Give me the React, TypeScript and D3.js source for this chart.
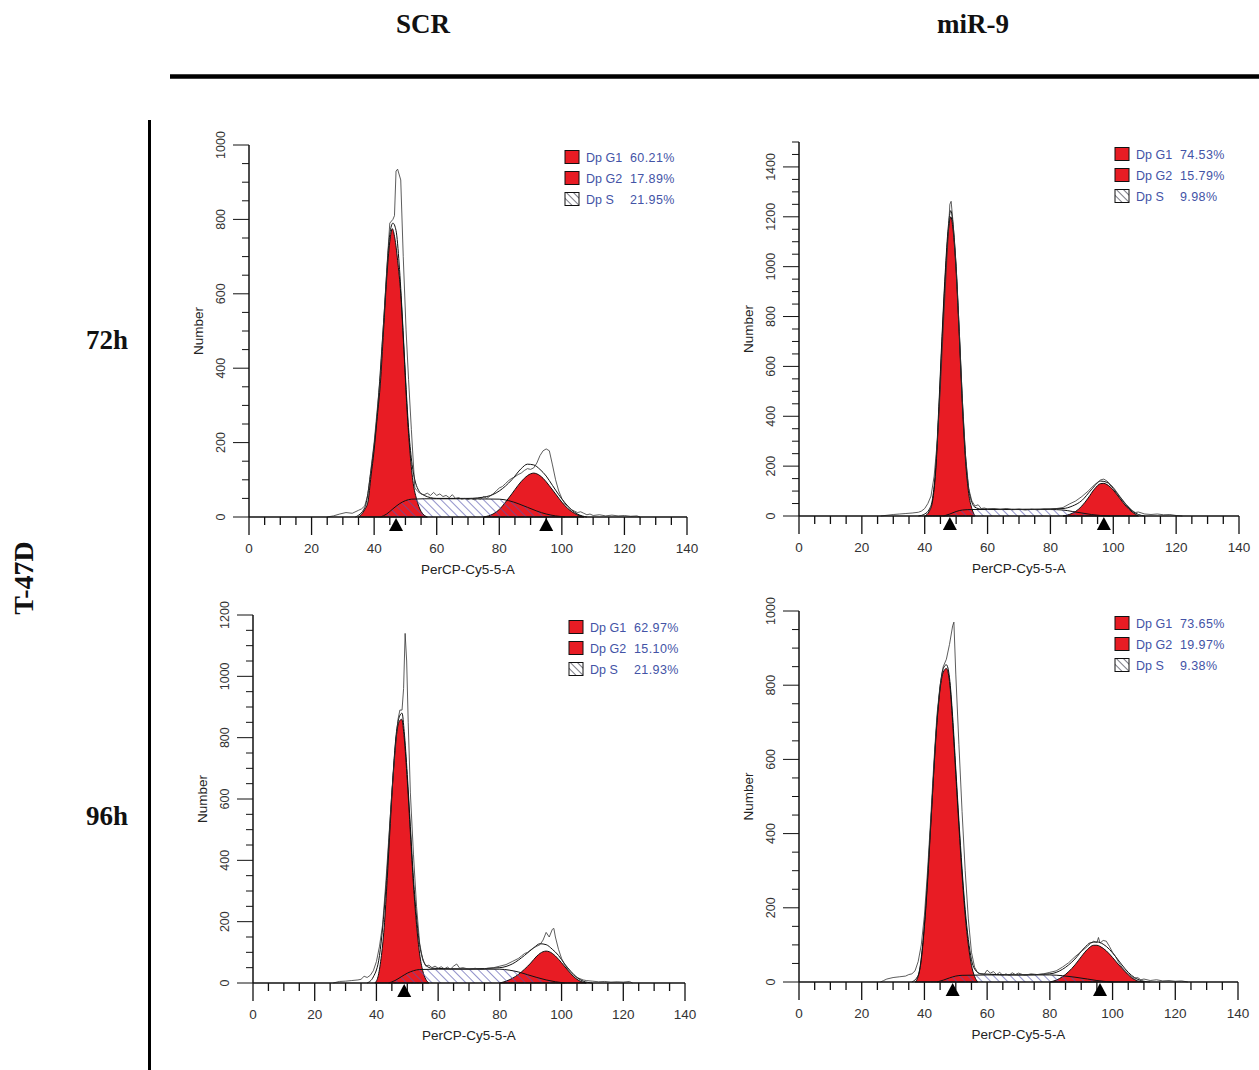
import * as d3 from 'd3'

type Pt = [number, number]

// x = PerCP-Cy5-5-A channel, y = Number (counts)

// SCR 72h
const scr72G1: Pt[] = [[35, 0], [37, 20], [38, 40], [39, 110], [40, 180], [41, 270], [42, 360], [43, 500], [44, 640], [45, 740], [45.8, 775], [46.6, 750], [47.5, 690], [48.5, 600], [49.5, 450], [50.5, 290], [51.5, 170], [52.5, 90], [53.5, 50], [55, 15], [57, 0]]
const scr72G2: Pt[] = [[75, 0], [78, 8], [80, 20], [82, 40], [84, 62], [86, 85], [88, 104], [90, 116], [91, 118], [92, 116], [94, 104], [96, 84], [98, 62], [100, 40], [102, 22], [104, 10], [107, 0]]
const scr72S: Pt[] = [[42, 0], [44, 8], [46, 22], [48, 35], [50, 44], [52, 48], [56, 49], [60, 49], [70, 49], [80, 48], [83, 44], [86, 36], [89, 26], [92, 16], [95, 8], [98, 3], [101, 0]]
const scr72Fit: Pt[] = [[34, 0], [37, 25], [39, 125], [41, 280], [43, 520], [45, 760], [46, 790], [47, 770], [48, 680], [49, 540], [50, 380], [51, 240], [52, 150], [53, 100], [54, 75], [56, 58], [60, 50], [70, 50], [76, 55], [80, 70], [84, 100], [87, 130], [89, 142], [91, 140], [93, 128], [95, 110], [97, 85], [99, 60], [101, 38], [103, 20], [105, 8], [108, 0]]
const scr72Raw: Pt[] = [[25, 0], [27, 3], [29, 8], [31, 12], [33, 10], [35, 18], [36, 22], [37, 30], [38, 60], [39, 130], [40, 200], [41, 290], [42, 380], [43, 520], [44, 660], [45, 790], [46, 800], [46.5, 810], [47, 930], [47.5, 935], [48.5, 906], [49.3, 700], [50.2, 503], [51, 370], [51.9, 235], [53, 78], [54, 68], [55, 62], [56, 60], [57, 64], [58, 58], [59, 66], [60, 58], [61, 62], [62, 55], [63, 58], [64, 52], [65, 60], [66, 50], [67, 52], [68, 48], [69, 50], [70, 47], [71, 50], [72, 46], [73, 50], [74, 48], [75, 55], [76, 50], [77, 56], [78, 62], [79, 70], [80, 78], [81, 82], [82, 90], [83, 98], [84, 104], [85, 108], [86, 114], [87, 118], [88, 125], [89, 130], [90, 128], [91, 132], [92, 145], [93, 165], [94, 178], [95, 183], [96, 178], [97, 140], [98, 100], [99, 70], [100, 50], [101, 35], [102, 28], [103, 20], [104, 16], [105, 12], [106, 14], [107, 10], [108, 6], [109, 8], [110, 4], [112, 6], [114, 3], [116, 5], [118, 3], [120, 4], [122, 2], [124, 3], [125, 0]]
const scr72Legend = ['60.21%', '17.89%', '21.95%']
const scr72Markers = [47, 95]

// miR-9 72h
const mir72G1: Pt[] = [[40, 0], [41.5, 20], [42.5, 60], [43.5, 180], [44.5, 420], [45.5, 700], [46.5, 950], [47.5, 1140], [48.3, 1200], [49, 1150], [50, 980], [51, 720], [52, 440], [53, 220], [54, 90], [55, 30], [56, 0]]
const mir72G2: Pt[] = [[84, 0], [86, 6], [88, 18], [90, 40], [92, 72], [94, 108], [96, 130], [97, 131], [98, 126], [100, 104], [102, 72], [104, 40], [106, 16], [108, 0]]
const mir72S: Pt[] = [[46, 0], [48, 8], [50, 18], [52, 24], [55, 26], [60, 26], [70, 26], [80, 26], [84, 24], [87, 18], [90, 12], [93, 6], [96, 2], [99, 0]]
const mir72Fit: Pt[] = [[38, 0], [40, 8], [41.5, 28], [42.5, 70], [43.5, 195], [44.5, 440], [45.5, 720], [46.5, 970], [47.5, 1160], [48.3, 1225], [49, 1170], [50, 1000], [51, 740], [52, 460], [53, 240], [54, 110], [55, 55], [56, 35], [58, 28], [70, 27], [84, 30], [87, 40], [90, 62], [93, 105], [96, 140], [98, 135], [100, 110], [102, 78], [104, 46], [106, 20], [108, 6], [110, 0]]
const mir72Raw: Pt[] = [[26, 0], [28, 3], [30, 6], [32, 8], [34, 10], [36, 12], [38, 15], [39, 20], [40, 30], [41, 50], [42, 80], [43, 160], [44, 300], [45, 520], [46, 780], [47, 1020], [48, 1250], [48.4, 1262], [49, 1180], [50, 1000], [51, 740], [52, 460], [53, 240], [54, 110], [55, 60], [56, 40], [57, 45], [58, 30], [59, 32], [60, 28], [62, 30], [64, 26], [66, 30], [68, 25], [70, 28], [72, 24], [74, 27], [76, 25], [78, 28], [80, 26], [82, 30], [84, 34], [86, 48], [88, 60], [90, 78], [92, 100], [94, 125], [96, 145], [97, 148], [98, 140], [100, 115], [102, 80], [104, 48], [106, 22], [107, 14], [108, 16], [110, 8], [112, 6], [114, 8], [116, 5], [118, 6], [120, 2], [122, 0]]
const mir72Legend = ['74.53%', '15.79%', '9.98%']
const mir72Markers = [48, 97]

// SCR 96h
const scr96G1: Pt[] = [[39.5, 0], [40.5, 20], [41.5, 80], [42.5, 180], [43.5, 340], [44.5, 520], [45.5, 690], [46.5, 810], [47.5, 855], [48.2, 860], [49, 800], [50, 660], [51, 490], [52, 320], [53, 190], [54, 95], [55, 40], [56, 12], [57, 0]]
const scr96G2: Pt[] = [[80, 0], [82, 6], [84, 15], [86, 28], [88, 45], [90, 65], [92, 88], [94, 102], [95, 104], [96, 102], [98, 88], [100, 66], [102, 42], [104, 20], [106, 6], [108, 0]]
const scr96S: Pt[] = [[44, 0], [46, 8], [48, 20], [50, 32], [52, 40], [54, 44], [60, 45], [70, 45], [80, 45], [83, 42], [86, 36], [89, 27], [92, 18], [95, 10], [98, 4], [101, 0]]
const scr96Fit: Pt[] = [[37, 0], [39, 20], [41, 90], [43, 300], [45, 620], [46.5, 820], [47.5, 870], [48.3, 880], [49, 820], [50, 680], [51, 510], [52, 340], [53, 215], [54, 125], [55, 80], [56, 58], [58, 48], [70, 46], [80, 50], [84, 62], [88, 90], [91, 115], [93, 128], [95, 125], [97, 110], [99, 90], [101, 62], [103, 38], [105, 18], [107, 6], [110, 0]]
const scr96Raw: Pt[] = [[26, 0], [28, 5], [30, 6], [32, 8], [34, 10], [35, 12], [36, 22], [37, 18], [38, 25], [39, 40], [40, 70], [41, 120], [42, 190], [43, 320], [44, 470], [45, 620], [46, 750], [47, 860], [47.6, 890], [48.3, 890], [48.8, 960], [49.3, 1140], [49.8, 1050], [50.3, 850], [51, 620], [52, 420], [53, 250], [54, 130], [55, 75], [56, 55], [57, 58], [58, 50], [59, 55], [60, 48], [61, 53], [62, 46], [63, 52], [64, 45], [65, 55], [66, 62], [67, 48], [68, 50], [70, 45], [72, 48], [74, 44], [76, 48], [78, 50], [80, 55], [82, 60], [84, 70], [86, 80], [87, 88], [88, 96], [89, 100], [90, 108], [91, 115], [92, 120], [93, 125], [94, 140], [95, 165], [96, 150], [97, 175], [97.5, 178], [98, 150], [99, 110], [100, 80], [101, 60], [102, 45], [103, 35], [104, 25], [105, 18], [106, 14], [107, 10], [108, 8], [110, 6], [112, 4], [114, 5], [116, 3], [118, 4], [120, 3], [122, 5], [123, 0]]
const scr96Legend = ['62.97%', '15.10%', '21.93%']
const scr96Markers = [49]

// miR-9 96h
const mir96G1: Pt[] = [[37, 0], [38, 15], [39, 60], [40, 150], [41, 270], [42, 420], [43, 570], [44, 700], [45, 790], [46, 835], [47, 845], [48, 810], [49, 700], [50, 560], [51, 420], [52, 290], [53, 180], [54, 100], [55, 45], [56, 15], [57, 0]]
const mir96G2: Pt[] = [[80, 0], [82, 5], [84, 14], [86, 28], [88, 46], [90, 68], [92, 88], [94, 99], [95, 99], [96, 96], [98, 84], [100, 66], [102, 46], [104, 28], [106, 12], [108, 3], [110, 0]]
const mir96S: Pt[] = [[44, 0], [46, 5], [48, 11], [50, 16], [52, 18], [60, 19], [70, 19], [80, 19], [84, 17], [88, 13], [92, 8], [95, 4], [98, 1], [100, 0]]
const mir96Fit: Pt[] = [[36, 0], [38, 18], [40, 155], [42, 425], [44, 705], [46, 845], [47, 855], [48, 820], [49, 715], [50, 575], [51, 435], [52, 305], [53, 195], [54, 115], [55, 60], [56, 35], [58, 22], [70, 19], [80, 22], [84, 34], [88, 62], [91, 92], [93, 106], [95, 108], [97, 102], [99, 88], [101, 68], [103, 46], [105, 26], [107, 12], [110, 2], [112, 0]]
const mir96Raw: Pt[] = [[26, 0], [27, 4], [28, 8], [30, 12], [32, 14], [34, 16], [35, 20], [36, 22], [37, 30], [38, 55], [39, 100], [40, 180], [41, 300], [42, 440], [43, 590], [44, 720], [45, 800], [46, 850], [47, 870], [48, 910], [49, 960], [49.4, 970], [50, 830], [51, 640], [52, 460], [53, 300], [54, 170], [55, 80], [56, 40], [57, 25], [58, 22], [59, 20], [60, 32], [61, 24], [62, 28], [63, 20], [64, 26], [65, 18], [66, 22], [67, 18], [68, 25], [69, 20], [70, 24], [72, 18], [74, 22], [76, 20], [78, 22], [80, 26], [82, 30], [84, 40], [86, 52], [88, 68], [90, 82], [92, 96], [93, 104], [94, 110], [95, 106], [95.5, 120], [96, 105], [97, 112], [98, 110], [99, 96], [100, 80], [101, 68], [102, 52], [103, 40], [104, 30], [105, 22], [106, 15], [107, 10], [108, 12], [109, 6], [110, 8], [112, 4], [114, 6], [116, 3], [118, 4], [120, 2], [122, 3], [124, 0]]
const mir96Legend = ['73.65%', '19.97%', '9.38%']
const mir96Markers = [49, 96]

const legendNames = ['Dp G1', 'Dp G2', 'Dp S']
const xTickLabels = [0, 20, 40, 60, 80, 100, 120, 140]
const columnTitles = ['SCR', 'miR-9']
const rowTitles = ['72h', '96h']
const cellLine = 'T-47D'

const RED = '#e81c24'
const BLUE = '#4353a6'
const sans = 'Arial, "Liberation Sans", sans-serif'
const serif = '"Times New Roman", "Liberation Serif", serif'

const panels = [
  { id: 'p1', left: 249, right: 687, bottom: 517, top: 145, yMax: 1000, g1: scr72G1, g2: scr72G2, s: scr72S, fit: scr72Fit, raw: scr72Raw, legend: scr72Legend, markers: scr72Markers },
  { id: 'p2', left: 799, right: 1239, bottom: 516, top: 142, yMax: 1500, g1: mir72G1, g2: mir72G2, s: mir72S, fit: mir72Fit, raw: mir72Raw, legend: mir72Legend, markers: mir72Markers },
  { id: 'p3', left: 253, right: 685, bottom: 983, top: 615, yMax: 1200, g1: scr96G1, g2: scr96G2, s: scr96S, fit: scr96Fit, raw: scr96Raw, legend: scr96Legend, markers: scr96Markers },
  { id: 'p4', left: 799, right: 1238, bottom: 982, top: 611, yMax: 1000, g1: mir96G1, g2: mir96G2, s: mir96S, fit: mir96Fit, raw: mir96Raw, legend: mir96Legend, markers: mir96Markers },
]

type PanelCfg = (typeof panels)[number]

const Panel = ({ p }: { p: PanelCfg }) => {
  const x = d3.scaleLinear().domain([0, 140]).range([p.left, p.right])
  const y = d3.scaleLinear().domain([0, p.yMax]).range([p.bottom, p.top])

  const area = d3.area<Pt>()
    .x((d) => x(d[0]))
    .y0(y(0))
    .y1((d) => y(d[1]))
    .curve(d3.curveMonotoneX)
  const smooth = d3.line<Pt>()
    .x((d) => x(d[0]))
    .y((d) => y(d[1]))
    .curve(d3.curveMonotoneX)
  const jagged = d3.line<Pt>()
    .x((d) => x(d[0]))
    .y((d) => y(d[1]))

  const xMinor = d3.range(0, 141, 5)
  const yMinor = d3.range(0, p.yMax + 1, 50)
  const yLabels = d3.range(0, p.yMax + 1, 200)
  const midY = (p.top + p.bottom) / 2
  const lx = p.left + 316
  const ly = p.top + 12

  return (
    <g>
      {/* histogram components */}
      <path d={area(p.g1) ?? ''} fill={RED} stroke="#111" strokeWidth={1} />
      <path d={area(p.g2) ?? ''} fill={RED} stroke="#111" strokeWidth={1} />
      <path d={area(p.s) ?? ''} fill="url(#hatch)" stroke="none" />
      <path d={smooth(p.s) ?? ''} fill="none" stroke="#111" strokeWidth={1} />
      <path d={smooth(p.fit) ?? ''} fill="none" stroke="#111" strokeWidth={1} />
      <path d={jagged(p.raw) ?? ''} fill="none" stroke="#333" strokeWidth={0.8} />

      {/* axes */}
      <line x1={p.left} x2={p.right} y1={y(0)} y2={y(0)} stroke="#111" strokeWidth={1.5} />
      <line x1={p.left} x2={p.left} y1={y(p.yMax)} y2={y(0)} stroke="#111" strokeWidth={1.5} />
      {xMinor.map((v) => (
        <line key={'xt' + v} x1={x(v)} x2={x(v)} y1={y(0)} y2={y(0) + (v % 20 === 0 ? 18 : 8)} stroke="#111" strokeWidth={1.3} />
      ))}
      {yMinor.map((v) => (
        <line key={'yt' + v} x1={p.left} x2={p.left - (v % 200 === 0 ? 16 : 7)} y1={y(v)} y2={y(v)} stroke="#111" strokeWidth={1} />
      ))}
      {xTickLabels.map((v) => (
        <text key={'xl' + v} x={x(v)} y={y(0) + 36} textAnchor="middle" fontFamily={sans} fontSize={13.5} fill="#333">{v}</text>
      ))}
      {yLabels.map((v) => (
        <text key={'yl' + v} transform={`translate(${p.left - 24},${y(v)}) rotate(-90)`} textAnchor="middle" fontFamily={sans} fontSize={12.5} fill="#333">{v}</text>
      ))}
      <text x={(p.left + p.right) / 2} y={y(0) + 57} textAnchor="middle" fontFamily={sans} fontSize={13.5} fill="#222">PerCP-Cy5-5-A</text>
      <text transform={`translate(${p.left - 46},${midY}) rotate(-90)`} textAnchor="middle" fontFamily={sans} fontSize={13.5} fill="#222">Number</text>

      {/* peak markers */}
      {p.markers.map((m) => (
        <path key={'m' + m} d={`M${x(m)},${y(0) + 1} l7,13 l-14,0 Z`} fill="#000" />
      ))}

      {/* legend */}
      {legendNames.map((name, i) => (
        <g key={name} transform={`translate(${lx},${ly + i * 21})`}>
          <rect x={0} y={-6.5} width={14} height={13} fill={i < 2 ? RED : 'url(#hatchIcon)'} stroke="#111" strokeWidth={1} />
          <text x={21} y={4.5} fontFamily={sans} fontSize={12.5} fill={BLUE}>{name}</text>
          <text x={65} y={4.5} fontFamily={sans} fontSize={12.5} fill={BLUE} letterSpacing={0.4}>{p.legend[i]}</text>
        </g>
      ))}
    </g>
  )
}

const App = () => {
  return (
    <svg width={1259} height={1070} viewBox="0 0 1259 1070" style={{ position: 'absolute', left: 0, top: 0, background: '#fff' }}>
      <defs>
        <pattern id="hatch" width={6} height={6} patternUnits="userSpaceOnUse" patternTransform="rotate(-45)">
          <line x1={0} y1={0} x2={0} y2={6} stroke="#5656ad" strokeWidth={1.3} />
        </pattern>
        <pattern id="hatchIcon" width={5} height={5} patternUnits="userSpaceOnUse" patternTransform="rotate(-45)">
          <rect width={5} height={5} fill="#fff" />
          <line x1={0} y1={0} x2={0} y2={5} stroke="#223" strokeWidth={1.2} />
        </pattern>
      </defs>
      <rect width={1259} height={1070} fill="#fff" />

      {/* frame titles */}
      {columnTitles.map((t, i) => (
        <text key={t} x={i === 0 ? 423 : 973} y={33} textAnchor="middle" fontFamily={serif} fontWeight="bold" fontSize={27} fill="#111">{t}</text>
      ))}
      {rowTitles.map((t, i) => (
        <text key={t} x={107} y={i === 0 ? 349 : 825} textAnchor="middle" fontFamily={serif} fontWeight="bold" fontSize={27} fill="#111">{t}</text>
      ))}
      <text transform="translate(33,578) rotate(-90)" textAnchor="middle" fontFamily={serif} fontWeight="bold" fontSize={28} fill="#111">{cellLine}</text>
      <line x1={170} x2={1259} y1={76.5} y2={76.5} stroke="#000" strokeWidth={4.5} />
      <line x1={149.5} x2={149.5} y1={120} y2={1070} stroke="#000" strokeWidth={3} />

      {panels.map((p) => <Panel key={p.id} p={p} />)}
    </svg>
  )
}

export default App
